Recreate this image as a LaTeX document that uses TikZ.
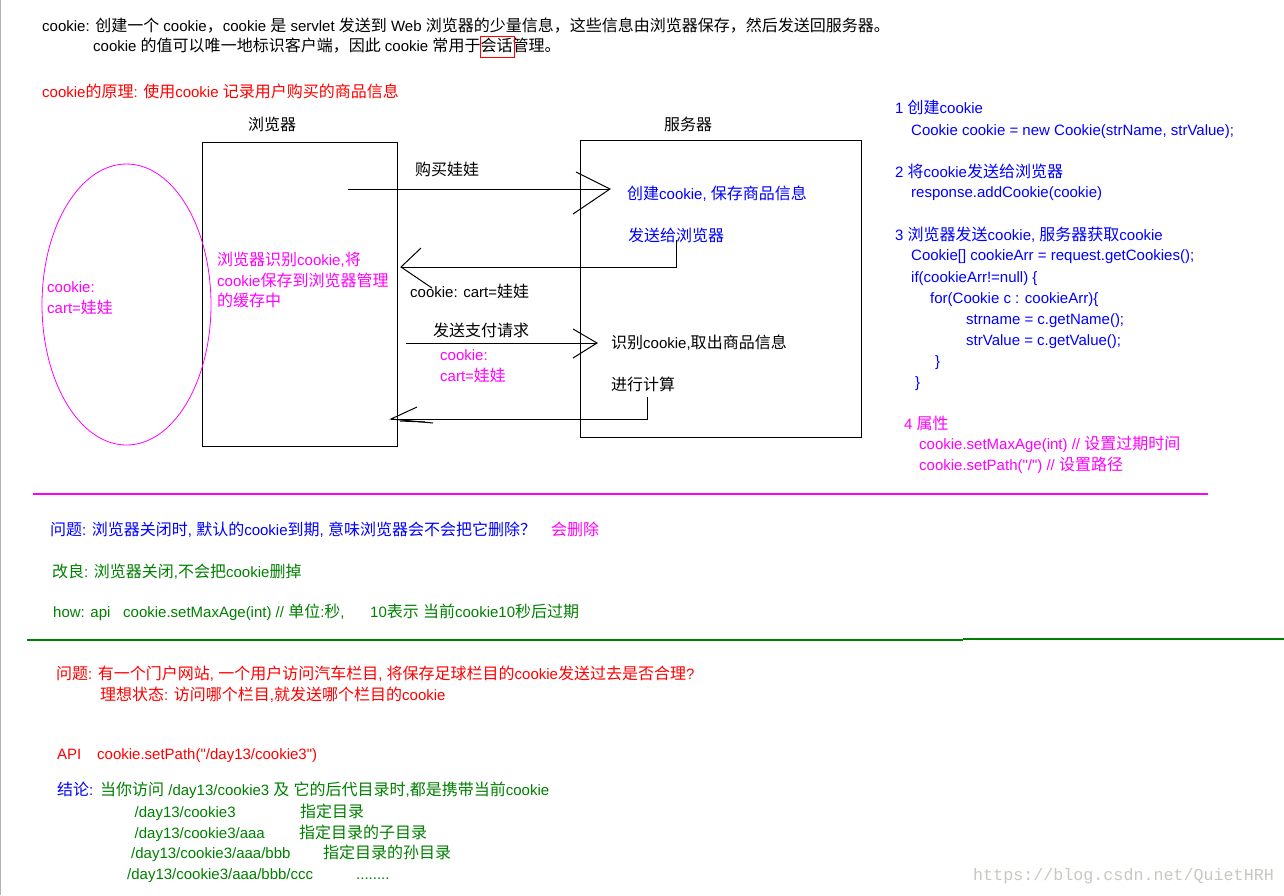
\documentclass[tikz,border=0pt]{standalone}
\usepackage{fontspec}
\newfontfamily\latinfont{Liberation Sans}
\newfontfamily\cjkfont{Noto Sans CJK SC}[Scale=1.067]
\newfontfamily\wmfont{Liberation Mono}
\newXeTeXintercharclass\cjkcls
\newcount\cjkc
\def\setcjkrange#1#2{\cjkc=#1\relax\loop\XeTeXcharclass\cjkc=\cjkcls\relax\advance\cjkc by 1\relax\ifnum\cjkc<#2\relax\repeat}
\setcjkrange{"3000}{"3040}
\setcjkrange{"4E00}{"A000}
\setcjkrange{"FF00}{"FFF0}
\XeTeXinterchartoks 0 \cjkcls = {\begingroup\cjkfont}
\XeTeXinterchartoks 4095 \cjkcls = {\begingroup\cjkfont}
\XeTeXinterchartoks \cjkcls 0 = {\endgroup}
\XeTeXinterchartoks \cjkcls 4095 = {\endgroup}
\XeTeXinterchartokenstate=1
\usetikzlibrary{shapes.geometric}
\definecolor{mblue}{RGB}{0,0,255}
\definecolor{mmag}{RGB}{255,0,255}
\definecolor{mred}{RGB}{255,0,0}
\definecolor{mgreen}{RGB}{0,128,0}
\definecolor{wmgray}{RGB}{200,200,195}
\tikzset{
  txt/.style={anchor=base west, inner sep=0pt, font=\latinfont\fontsize{15}{17}\selectfont},
  btxt/.style={txt, text=mblue},
  mtxt/.style={txt, text=mmag},
  rtxt/.style={txt, text=mred},
  gtxt/.style={txt, text=mgreen},
  wire/.style={draw=black, line width=1pt},
  boxnode/.style={draw=black, line width=1pt, inner sep=0pt},
}
\begin{document}
\begin{tikzpicture}[x=1pt,y=-1pt]
\useasboundingbox (0,0) rectangle (1284,895);
\fill[white] (0,0) rectangle (1284,895);
\draw[gray!60, line width=1pt] (0.5,0) -- (0.5,895);

% top text
\node[txt] (t1) at (42,31) {cookie: 创建一个 cookie，cookie 是 servlet 发送到 Web 浏览器的少量信息，这些信息由浏览器保存，然后发送回服务器。};
\node[txt] (t2) at (93,51) {cookie 的值可以唯一地标识客户端，因此 cookie 常用于会话管理。};
\node[rtxt] (t3) at (42,97) {cookie的原理: 使用cookie 记录用户购买的商品信息};

% diagram
\node[txt] (lb) at (248,130) {浏览器};
\node[txt] (ls) at (664,130) {服务器};
\node[boxnode, minimum width=195pt, minimum height=304pt] (browser) at (299.5,294) {};
\node[boxnode, minimum width=281pt, minimum height=297pt] (server) at (720.5,288.5) {};
\node[ellipse, draw=mmag, line width=0.8pt, inner sep=0pt, minimum width=169pt, minimum height=281pt] (ell) at (126.5,304.5) {};
\node[mtxt] (e1) at (47,292) {cookie:};
\node[mtxt] (e2) at (47,313) {cart=娃娃};
\node[mtxt] (b1) at (217,265) {浏览器识别cookie,将};
\node[mtxt] (b2) at (217,286) {cookie保存到浏览器管理};
\node[mtxt] (b3) at (217,306) {的缓存中};

\node[txt] (l1) at (415,175) {购买娃娃};
\node[txt] (l2) at (410,297) {cookie: cart=娃娃};
\node[txt] (l3) at (433,336) {发送支付请求};
\node[mtxt] (l4) at (440,360) {cookie:};
\node[mtxt] (l5) at (440,381) {cart=娃娃};

\node[btxt] (s1) at (627,199) {创建cookie, 保存商品信息};
\node[btxt] (s2) at (628,241) {发送给浏览器};
\node[txt] (s3) at (611,348) {识别cookie,取出商品信息};
\node[txt] (s4) at (611,390) {进行计算};

% arrows
\coordinate (a1s) at (348,189); \coordinate (a1t) at (610,189);
\coordinate (a1u) at (576,172); \coordinate (a1d) at (573,214);
\draw[wire] (a1s) -- (a1t);
\draw[wire] (a1u) -- (a1t) -- (a1d);

\coordinate (a2s) at (676,240); \coordinate (a2c) at (676,267); \coordinate (a2t) at (401,267);
\coordinate (a2u) at (421,248); \coordinate (a2d) at (432,288);
\draw[wire] (a2s) -- (a2c) -- (a2t);
\draw[wire] (a2u) -- (a2t) -- (a2d);

\coordinate (a3s) at (406,343); \coordinate (a3t) at (597,343);
\coordinate (a3u) at (573,329); \coordinate (a3d) at (573,358);
\draw[wire] (a3s) -- (a3t);
\draw[wire] (a3u) -- (a3t) -- (a3d);

\coordinate (a4s) at (647,397); \coordinate (a4c) at (647,419); \coordinate (a4t) at (391,419);
\coordinate (a4u) at (417,407); \coordinate (a4d) at (433,423); \coordinate (a4e) at (400,421); \coordinate (a4f) at (425,422);
\draw[wire] (a4s) -- (a4c) -- (a4t);
\draw[wire] (a4u) -- (a4t) -- (a4d);
\draw[wire] (a4e) -- (a4f);

% right code
\node[btxt] (r1) at (895,113) {1 创建cookie};
\node[btxt] (r2) at (911,135) {Cookie cookie = new Cookie(strName, strValue);};
\node[btxt] (r3) at (895,177) {2 将cookie发送给浏览器};
\node[btxt] (r4) at (911,197) {response.addCookie(cookie)};
\node[btxt] (r5) at (895,240) {3 浏览器发送cookie, 服务器获取cookie};
\node[btxt] (r6) at (911,260) {Cookie[] cookieArr = request.getCookies();};
\node[btxt] (r7) at (911,282) {if(cookieArr!=null) \{};
\node[btxt] (r8) at (930,303) {for(Cookie c : cookieArr)\{};
\node[btxt] (r9) at (966,324) {strname = c.getName();};
\node[btxt] (r10) at (966,345) {strValue = c.getValue();};
\node[btxt] (r11) at (935,366) {\}};
\node[btxt] (r12) at (915,387) {\}};
\node[mtxt] (r13) at (904,429) {4 属性};
\node[mtxt] (r14) at (919,449) {cookie.setMaxAge(int) // 设置过期时间};
\node[mtxt] (r15) at (919,470) {cookie.setPath("/") // 设置路径};

% separators
\draw[mmag, line width=1.3pt] (33,494) -- (1208,494);
\draw[mgreen, line width=1.3pt] (27,640) -- (963,640);
\draw[mgreen, line width=1.3pt] (963,639) -- (1284,639);

% middle section
\node[btxt] (q1) at (50,535) {问题: 浏览器关闭时, 默认的cookie到期, 意味浏览器会不会把它删除？};
\node[mtxt] (q1b) at (551,535) {会删除};
\node[gtxt] (q2) at (52,577) {改良: 浏览器关闭,不会把cookie删掉};
\node[gtxt] (q3a) at (53,617) {how: api};
\node[gtxt] (q3b) at (123,617) {cookie.setMaxAge(int) // 单位:秒,};
\node[gtxt] (q3c) at (370,617) {10表示 当前cookie10秒后过期};

% bottom section
\node[rtxt] (p1) at (56,679) {问题:  有一个门户网站, 一个用户访问汽车栏目, 将保存足球栏目的cookie发送过去是否合理?};
\node[rtxt] (p2) at (100,700) {理想状态: 访问哪个栏目,就发送哪个栏目的cookie};
\node[rtxt] (api1) at (57,759) {API};
\node[rtxt] (api2) at (97,759) {cookie.setPath("/day13/cookie3")};
\node[btxt] (c1) at (57,795) {结论:};
\node[gtxt] (c1b) at (100,795) {当你访问 /day13/cookie3 及 它的后代目录时,都是携带当前cookie};
\node[gtxt] (c2) at (134.5,817) {/day13/cookie3};
\node[gtxt] (c2b) at (300,817) {指定目录};
\node[gtxt] (c3) at (134.5,838) {/day13/cookie3/aaa};
\node[gtxt] (c3b) at (299,838) {指定目录的子目录};
\node[gtxt] (c4) at (131,858) {/day13/cookie3/aaa/bbb};
\node[gtxt] (c4b) at (323,858) {指定目录的孙目录};
\node[gtxt] (c5) at (127,879) {/day13/cookie3/aaa/bbb/ccc};
\node[gtxt] (c5b) at (356,879) {........};

\node[anchor=base west, inner sep=0pt, text=wmgray, font=\wmfont\fontsize{16.7}{18}\selectfont] (wm) at (973,880) {https://blog.csdn.net/QuietHRH};

% red frame round the word
\coordinate (rbA) at (480.5,36.5); \coordinate (rbB) at (514.5,57.5);
\draw[draw=mred, line width=1.2pt] (rbA) rectangle (rbB);
\end{tikzpicture}
\end{document}
